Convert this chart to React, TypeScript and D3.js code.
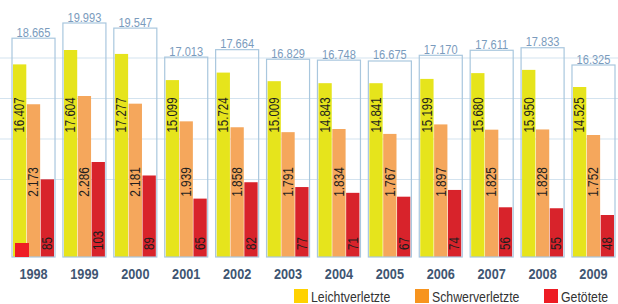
import React from "react";
import * as d3 from "d3";

// Unfälle nach Jahr
const years = ["1998", "1999", "2000", "2001", "2002", "2003", "2004", "2005", "2006", "2007", "2008", "2009"];
const totals = [18665, 19993, 19547, 17013, 17664, 16829, 16748, 16675, 17170, 17611, 17833, 16325];
const leicht = [16407, 17604, 17277, 15099, 15724, 15009, 14843, 14841, 15199, 15680, 15950, 14525];
const schwer = [2173, 2286, 2181, 1939, 1858, 1791, 1834, 1767, 1897, 1825, 1828, 1752];
const getoetet = [85, 103, 89, 65, 82, 77, 71, 67, 74, 56, 55, 48];
const seriesNames = ["Leichtverletzte", "Schwerverletzte", "Getötete"];

const W = 618;
const H = 304;
const baseline = 257;
const font = "'Liberation Sans', Arial, sans-serif";
const narrow = 0.82; // condensed look of the original font

const barColors = ["#e6e41c", "#f5a75c", "#d8232b"];
const legendColors = ["#ffd200", "#f7941e", "#ed1c24"];

const de = d3.formatLocale({ decimal: ",", thousands: ".", grouping: [3], currency: ["", "€"] });
const fmt = de.format(",");

export default function App() {
  const x = d3.scaleBand().domain(years).range([12, 615]).paddingInner(0.155).paddingOuter(0);
  const xi = d3.scaleBand().domain(seriesNames).range([1, 42]).paddingInner(0.04);

  // every series has its own (broken) scale in the original graphic
  const yTotal = d3.scaleLinear().domain([16325, 19993]).range([65, 23]);
  const yLeicht = d3.scaleLinear().domain([14525, 17604]).range([87, 50]);
  const ySchwer = d3.scaleLinear().domain([1752, 2286]).range([135, 96]);
  const yTot = d3.scaleLinear().domain([48, 103]).range([215, 162]);

  const series = [
    { values: leicht, y: yLeicht, labelY: 115, anchor: "middle", size: 14 },
    { values: schwer, y: ySchwer, labelY: 182, anchor: "middle", size: 14.5 },
    { values: getoetet, y: yTot, labelY: 250, anchor: "start", size: 14 },
  ];

  const grid = d3.range(4).map((i) => 58 + i * 40.5);

  return (
    <svg width={W} height={H} style={{ position: "absolute", left: 0, top: 0, background: "#fff" }} fontFamily={font}>
      {grid.map((g) => (
        <line key={g} x1={0} x2={W} y1={g} y2={g} stroke="#d3e3ef" strokeWidth={1} />
      ))}

      {years.map((yr, i) => {
        const gx = x(yr)!;
        const cx = x.bandwidth() / 2;
        return (
          <g key={yr} transform={`translate(${gx},0)`}>
            {series.map((s, j) => {
              const bx = xi(seriesNames[j])!;
              const top = s.y(s.values[i]);
              return (
                <g key={j}>
                  <rect x={bx} y={top} width={xi.bandwidth()} height={baseline - top} fill={barColors[j]} />
                  <text
                    transform={`translate(${bx + xi.bandwidth() / 2 + 4.8},${s.labelY}) rotate(-90) scale(${narrow},1)`}
                    textAnchor={s.anchor}
                    fontSize={s.size}
                    fill="#1e1e1e"
                  >
                    {fmt(s.values[i])}
                  </text>
                </g>
              );
            })}
            <rect
              x={0}
              y={yTotal(totals[i])}
              width={x.bandwidth()}
              height={baseline - yTotal(totals[i])}
              fill="none"
              stroke="#a9c7de"
              strokeWidth={1.2}
            />
            <text
              transform={`translate(${cx},${yTotal(totals[i]) - 1.5}) scale(${narrow},1)`}
              textAnchor="middle"
              fontSize={13.5}
              fill="#7a9bbd"
            >
              {fmt(totals[i])}
            </text>
            <text
              transform={`translate(${cx},279) scale(${narrow},1)`}
              textAnchor="middle"
              fontSize={15.5}
              fontWeight="bold"
              fill="#3f5672"
            >
              {yr}
            </text>
          </g>
        );
      })}

      <rect x={15} y={243} width={14} height={14} fill="#ee1c25" />

      {seriesNames.map((n, j) => {
        const lx = [294, 415, 544][j];
        return (
          <g key={n}>
            <rect x={lx} y={289} width={14} height={14} fill={legendColors[j]} />
            <text transform={`translate(${lx + 17},302) scale(${narrow},1)`} fontSize={15} fill="#333">
              {n}
            </text>
          </g>
        );
      })}
    </svg>
  );
}
